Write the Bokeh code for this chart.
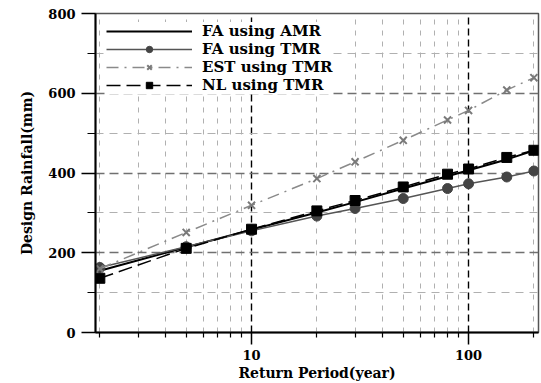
from bokeh.plotting import figure
from bokeh.models import FixedTicker, PrintfTickFormatter, Legend, LegendItem, Range1d
from bokeh.embed import file_html
from bokeh.resources import INLINE

# ---- data ----
return_period = [2, 5, 10, 20, 30, 50, 80, 100, 150, 200]
fa_amr = [155, 214, 258, 301, 327, 361, 392, 407, 434, 456]
fa_tmr = [163, 215, 255, 292, 311, 336, 361, 373, 390, 405]
est_tmr = [160, 251, 319, 386, 428, 482, 533, 557, 608, 639]
nl_tmr = [136, 211, 259, 305, 331, 365, 397, 410, 439, 457]

series_names = ["FA using AMR", "FA using TMR", "EST using TMR", "NL using TMR"]
x_major = [10, 100]
x_minor = [2, 3, 4, 5, 6, 7, 8, 9, 20, 30, 40, 50, 60, 70, 80, 90, 200]
y_major = [0, 200, 400, 600, 800]
y_minor = [100, 300, 500, 700]

FONT = "DejaVu Serif"

p = figure(width=541, height=383, x_axis_type="log",
           x_range=Range1d(1.91, 210), y_range=Range1d(0, 800),
           output_backend="svg", toolbar_location=None,
           min_border_left=95, min_border_right=3, min_border_top=13, min_border_bottom=49)
p.background_fill_color = "white"
p.border_fill_color = "white"
p.outline_line_color = "#555555"
p.outline_line_width = 1.5

# axes
p.xaxis.ticker = FixedTicker(ticks=x_major, minor_ticks=x_minor)
p.xaxis.formatter = PrintfTickFormatter(format="%d")
p.yaxis.ticker = FixedTicker(ticks=y_major, minor_ticks=y_minor)
for ax in (p.xaxis, p.yaxis):
    ax.axis_line_color = "black"
    ax.axis_line_width = 2
    ax.major_tick_line_color = "black"
    ax.minor_tick_line_color = "black"
    ax.major_tick_line_width = 1.5
    ax.minor_tick_line_width = 1.2
    ax.major_tick_in = 0
    ax.minor_tick_in = 0
    ax.major_label_text_font = FONT
    ax.major_label_text_font_style = "bold"
    ax.major_label_text_font_size = "13px"
    ax.major_label_text_color = "black"
    ax.axis_label_text_font = FONT
    ax.axis_label_text_font_style = "bold"
    ax.axis_label_text_font_size = "14px"
    ax.axis_label_text_color = "black"
p.xaxis.major_tick_out = 12
p.xaxis.minor_tick_out = 5
p.yaxis.major_tick_out = 14
p.yaxis.minor_tick_out = 8
p.xaxis.major_label_standoff = 5
p.yaxis.major_label_standoff = 6
p.xaxis.axis_label = "Return Period(year)"
p.yaxis.axis_label = "Design Rainfall(mm)"
p.xaxis.axis_label_standoff = 2
p.yaxis.axis_label_standoff = 10

# grids
p.xgrid.grid_line_color = "black"
p.xgrid.grid_line_width = 1.4
p.xgrid.grid_line_dash = "7 4"
p.xgrid.minor_grid_line_color = "#b0b0b0"
p.xgrid.minor_grid_line_width = 1
p.xgrid.minor_grid_line_dash = "5 6"
p.ygrid.grid_line_color = "#707070"
p.ygrid.grid_line_width = 1.3
p.ygrid.grid_line_dash = "9 5"
p.ygrid.minor_grid_line_color = "#b0b0b0"
p.ygrid.minor_grid_line_width = 1
p.ygrid.minor_grid_line_dash = "8 6"

# series
r_amr = p.line(return_period, fa_amr, line_color="black", line_width=2)

r_tmr_l = p.line(return_period, fa_tmr, line_color="#555555", line_width=1.5)
r_tmr_m = p.scatter(return_period, fa_tmr, marker="circle", size=10,
                    fill_color="#444444", line_color="#444444")

r_est_l = p.line(return_period, est_tmr, line_color="#8a8a8a", line_width=1.5,
                 line_dash="12 6 2 6")
r_est_m = p.scatter(return_period, est_tmr, marker="x", size=10,
                    line_color="#7a7a7a", line_width=2)

r_nl_l = p.line(return_period, nl_tmr, line_color="black", line_width=1.5,
                line_dash="14 6")
r_nl_m = p.scatter(return_period, nl_tmr, marker="square", size=10,
                   fill_color="black", line_color="black")

legend = Legend(items=[
    LegendItem(label=series_names[0], renderers=[r_amr]),
    LegendItem(label=series_names[1], renderers=[r_tmr_l, r_tmr_m]),
    LegendItem(label=series_names[2], renderers=[r_est_l, r_est_m]),
    LegendItem(label=series_names[3], renderers=[r_nl_l, r_nl_m]),
], location=(11, 238))
legend.margin = 0
legend.padding = 6
legend.spacing = 0
legend.glyph_width = 86
legend.glyph_height = 16
legend.label_height = 16
legend.label_standoff = 10
legend.label_text_font = FONT
legend.label_text_font_style = "bold"
legend.label_text_font_size = "15px"
legend.label_text_color = "black"
legend.background_fill_color = "white"
legend.background_fill_alpha = 1.0
legend.border_line_color = None
p.add_layout(legend)

open("out.html", "w").write(file_html(p, INLINE))
